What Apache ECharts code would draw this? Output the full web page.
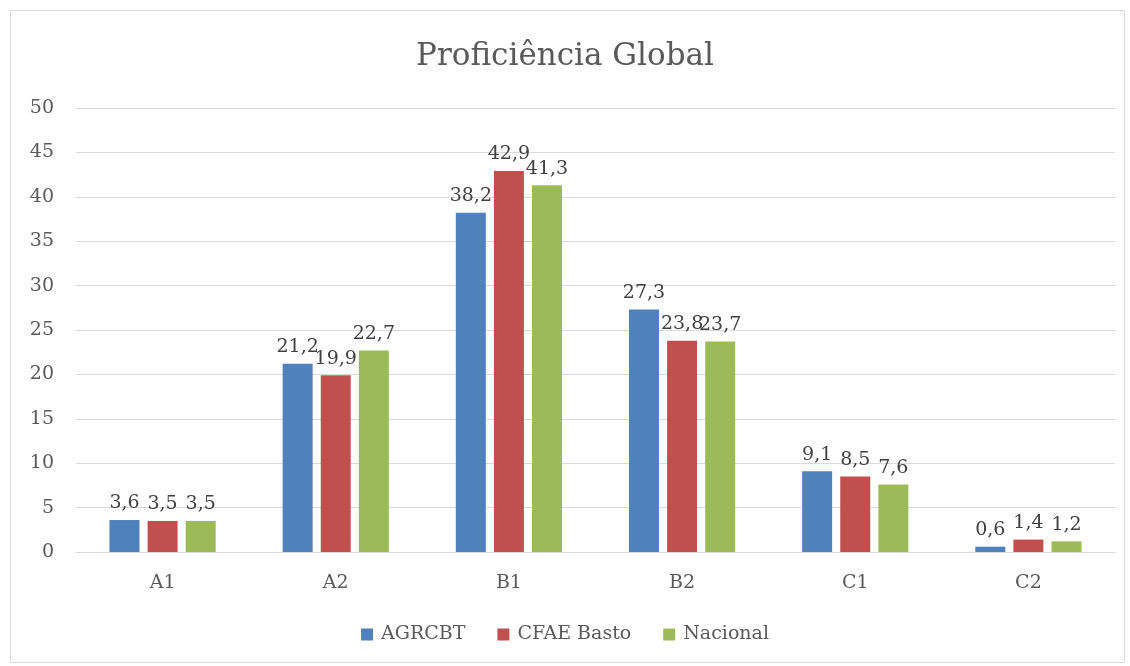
<!DOCTYPE html>
<html>
<head>
<meta charset="utf-8">
<script src="https://cdn.jsdelivr.net/npm/echarts@6/dist/echarts.min.js"></script>
<style>
  html, body { margin: 0; padding: 0; background: #fff; }
  #chart { width: 1130px; height: 666px; }
</style>
</head>
<body>
<div id="chart"></div>
<script>
// dados
const categories = ['A1', 'A2', 'B1', 'B2', 'C1', 'C2']
const agrcbt = [3.6, 21.2, 38.2, 27.3, 9.1, 0.6]
const cfaeBasto = [3.5, 19.9, 42.9, 23.8, 8.5, 1.4]
const nacional = [3.5, 22.7, 41.3, 23.7, 7.6, 1.2]
const yTicks = [0, 5, 10, 15, 20, 25, 30, 35, 40, 45, 50]

const serif = '"DejaVu Serif", "Liberation Serif", serif'

const chart = echarts.init(document.getElementById('chart'))

function barSeries(name, data, color) {
  return {
    name: name,
    type: 'bar',
    data: data,
    barWidth: 30,
    barGap: '27%',
    itemStyle: { color: color },
    label: {
      show: true,
      position: 'top',
      distance: 7,
      color: '#404040',
      fontFamily: serif,
      fontSize: 19,
      formatter: p => String(p.value).replace('.', ',')
    }
  }
}

chart.setOption({
  backgroundColor: '#fff',
  animation: false,
  title: {
    text: 'Proficiência Global',
    left: 'center',
    top: 36,
    textStyle: { fontFamily: serif, fontSize: 31, fontWeight: 'normal', color: '#595959' }
  },
  graphic: [
    {
      // moldura do gráfico
      type: 'rect',
      shape: { x: 10.5, y: 10.5, width: 1114, height: 652 },
      style: { fill: 'none', stroke: '#d9d9d9', lineWidth: 1 },
      silent: true
    }
  ],
  legend: {
    bottom: 17,
    left: 'center',
    itemWidth: 12,
    itemHeight: 12,
    itemGap: 32,
    icon: 'rect',
    textStyle: { fontFamily: serif, fontSize: 19, color: '#595959', padding: [0, 0, 0, 3] }
  },
  grid: { left: 76, right: 15, top: 108, bottom: 114 },
  xAxis: {
    type: 'category',
    data: categories,
    axisTick: { show: false },
    axisLine: { lineStyle: { color: '#d9d9d9', width: 1 } },
    axisLabel: { fontFamily: serif, fontSize: 19, color: '#595959', margin: 22 }
  },
  yAxis: {
    type: 'value',
    min: yTicks[0],
    max: yTicks[yTicks.length - 1],
    interval: 5,
    axisLine: { show: false },
    axisTick: { show: false },
    splitLine: { lineStyle: { color: '#d9d9d9', width: 1 } },
    axisLabel: { fontFamily: serif, fontSize: 19, color: '#595959', margin: 22 }
  },
  series: [
    barSeries('AGRCBT', agrcbt, '#4f81bd'),
    barSeries('CFAE Basto', cfaeBasto, '#c0504d'),
    barSeries('Nacional', nacional, '#9bbb59')
  ]
})
</script>
</body>
</html>
